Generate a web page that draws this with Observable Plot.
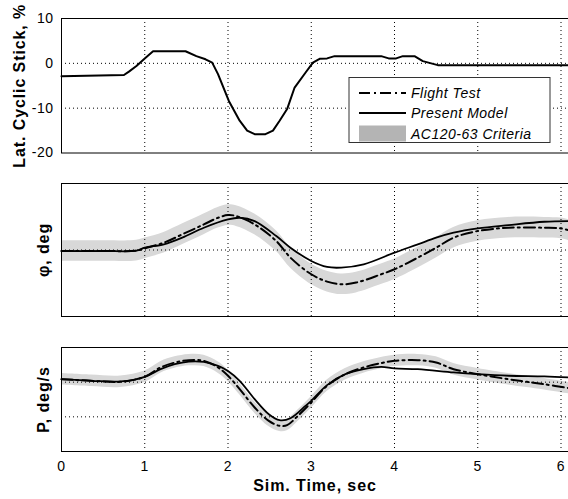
<!DOCTYPE html>
<html><head><meta charset="utf-8">
<script src="https://cdn.jsdelivr.net/npm/d3@7"></script>
<script src="https://cdn.jsdelivr.net/npm/@observablehq/plot@0.6"></script>
<style>
body{margin:0;background:#fff;}
#c{position:relative;width:568px;height:499px;overflow:hidden;background:#fff;}
#c > svg{position:absolute;left:0;overflow:visible;}
#c svg text{letter-spacing:0.5px;}
#c g[font-weight="bold"] text{letter-spacing:0.9px;}
</style></head><body><div id="c"></div>
<script>
// ---- data ----
const xTicks = [0, 1, 2, 3, 4, 5, 6];
const stickT = [0, 0.75, 0.81, 0.90, 1.0, 1.10, 1.49, 1.62, 1.73, 1.81, 1.88, 2.01, 2.14, 2.23, 2.32, 2.45, 2.54, 2.62, 2.71, 2.80, 2.93, 3.02, 3.10, 3.19, 3.28, 3.84, 3.93, 4.02, 4.10, 4.24, 4.34, 4.52, 6.1];
const stickV = [-2.9, -2.6, -1.85, -0.6, 1.1, 2.7, 2.7, 1.6, 0.9, 0.15, -2.4, -8.4, -12.8, -15.0, -15.8, -15.8, -15.0, -12.8, -10.2, -5.4, -2.1, 0.15, 1.0, 1.1, 1.6, 1.6, 1.1, 1.1, 1.6, 1.6, 0.5, -0.4, -0.4];

const phiFtT = [0, 0.5, 0.9, 1.0, 1.23, 1.45, 1.71, 1.88, 2.0, 2.10, 2.32, 2.58, 2.75, 3.0, 3.19, 3.36, 3.54, 3.84, 4.0, 4.28, 4.50, 4.71, 5.0, 5.37, 5.80, 6.0, 6.1];
const phiFtV = [-0.3, -0.3, -0.2, 0.5, 2.2, 4.7, 7.7, 9.7, 10.5, 10.2, 7.7, 2.7, -2.3, -7.3, -9.5, -10.3, -9.8, -7.3, -5.8, -2.3, 0.7, 3.7, 5.7, 6.7, 6.7, 6.5, 5.9];
const phiPmT = [0, 0.5, 0.9, 1.0, 1.23, 1.45, 1.71, 2.0, 2.14, 2.32, 2.58, 2.75, 3.0, 3.19, 3.36, 3.63, 4.0, 4.28, 4.50, 4.71, 5.0, 5.37, 5.80, 6.1];
const phiPmV = [-0.3, -0.3, -0.2, 0.7, 1.7, 3.7, 6.7, 9.2, 9.7, 8.7, 4.2, 0.7, -3.3, -5.1, -5.3, -4.3, -0.8, 1.7, 3.7, 5.2, 6.5, 7.5, 8.5, 8.7];
const phiTol = 3.1;

const pFtT = [0, 0.36, 0.71, 1.0, 1.19, 1.36, 1.53, 1.71, 1.88, 2.0, 2.14, 2.32, 2.49, 2.62, 2.71, 2.84, 3.0, 3.19, 3.41, 3.63, 3.84, 4.0, 4.28, 4.50, 4.71, 5.0, 5.37, 5.59, 5.80, 6.1];
const pFtV = [1.7, 0.8, 0.2, 3.1, 8.5, 11.3, 12.7, 12.3, 8.5, 3.7, -4.0, -14.6, -22.3, -25.2, -24.8, -19.4, -11.7, -2.1, 4.6, 8.5, 11.0, 12.3, 12.7, 11.3, 7.5, 4.6, 1.7, 0.2, -1.2, -3.5];
const pPmT = [0, 0.36, 0.71, 1.0, 1.19, 1.36, 1.53, 1.71, 1.88, 2.0, 2.14, 2.32, 2.49, 2.62, 2.75, 2.93, 3.0, 3.19, 3.41, 3.63, 3.84, 4.0, 4.28, 4.71, 5.0, 5.37, 5.80, 6.1];
const pPmV = [1.7, 0.8, 0.4, 3.1, 7.5, 10.4, 11.9, 11.7, 9.4, 6.5, 0.8, -9.8, -18.5, -21.9, -20.8, -13.7, -10.8, -1.7, 4.6, 7.5, 8.8, 7.9, 7.5, 5.6, 4.6, 3.7, 3.3, 2.7];
const pTol = 3.3;

const legendLabels = ["Flight Test", "Present Model", "AC120-63 Criteria"];

// ---- helpers ----
const zip = (T, V) => T.map((t, i) => ({t, v: V[i]}));
const stick = zip(stickT, stickV);
const phiFt = zip(phiFtT, phiFtV), phiPm = zip(phiPmT, phiPmV);
const pFt = zip(pFtT, pFtV), pPm = zip(pPmT, pPmV);

const W = 568, ML = 61, MR = 0;
const XD = [0, 6.09];
const font = "'Liberation Sans', Arial, Helvetica, sans-serif";
const dashDot = "11,4,2,4";
const bandFill = "#d8d8d8";
const grid = {stroke: "black", strokeOpacity: 1, strokeWidth: 1, strokeDasharray: "1,3"};
const style = {fontFamily: font, fontSize: "14px", color: "black", background: "transparent", overflow: "visible"};
const ylabel = (txt, dx) => Plot.text([txt], {frameAnchor: "left", textAnchor: "middle", rotate: -90, dx, fontWeight: "bold", fontSize: 16, fill: "black"});

const c = document.getElementById("c");

// Top panel
const p1 = Plot.plot({
  width: W, height: 170, marginTop: 18, marginBottom: 17.5, marginLeft: ML, marginRight: MR,
  style,
  x: {domain: XD, axis: null},
  y: {domain: [-20, 10]},
  marks: [
    Plot.gridX(xTicks.slice(1), grid),
    Plot.gridY([-10, 0], grid),
    Plot.line(stick, {x: "t", y: "v", stroke: "black", strokeWidth: 2}),
    Plot.axisY([-20, -10, 0, 10], {tickSize: 0, tickPadding: 8, fontSize: 14, label: null, tickFormat: d => String(d)}),
    Plot.frame({stroke: "black", strokeWidth: 1}),
    ylabel("Lat. Cyclic Stick, %", -42)
  ]
});
p1.style.top = "0px";
c.appendChild(p1);

// Legend (drawn into top panel svg)
{
  const svg = d3.select(p1);
  const g = svg.append("g").attr("font-family", font).attr("font-size", 14).attr("font-style", "italic")
    .attr("text-anchor", "start").style("letter-spacing", "0.9px");
  g.append("rect").attr("x", 349).attr("y", 77.5).attr("width", 201).attr("height", 65)
    .attr("fill", "white").attr("stroke", "#333").attr("stroke-width", 1);
  const rows = [93, 113, 134];
  g.append("line").attr("x1", 359).attr("x2", 406).attr("y1", rows[0]).attr("y2", rows[0])
    .attr("stroke", "black").attr("stroke-width", 2).attr("stroke-dasharray", dashDot);
  g.append("line").attr("x1", 359).attr("x2", 406).attr("y1", rows[1]).attr("y2", rows[1])
    .attr("stroke", "black").attr("stroke-width", 2);
  g.append("rect").attr("x", 359).attr("y", 125.5).attr("width", 47).attr("height", 16).attr("fill", "#b4b4b4");
  legendLabels.forEach((l, i) => g.append("text").attr("x", 411).attr("y", rows[i]).attr("dy", "0.36em").attr("fill", "black").text(l));
}

// Middle panel
const p2 = Plot.plot({
  width: W, height: 160, marginTop: 13, marginBottom: 14, marginLeft: ML, marginRight: MR,
  style,
  x: {domain: XD, axis: null},
  y: {domain: [-20, 20], axis: null},
  marks: [
    Plot.areaY(phiFt, {x: "t", y1: d => d.v - phiTol, y2: d => d.v + phiTol, fill: bandFill, curve: "catmull-rom"}),
    Plot.gridX(xTicks.slice(1), grid),
    Plot.gridY([0], grid),
    Plot.line(phiFt, {x: "t", y: "v", stroke: "black", strokeWidth: 2, strokeDasharray: dashDot, curve: "catmull-rom"}),
    Plot.line(phiPm, {x: "t", y: "v", stroke: "black", strokeWidth: 1.8, curve: "catmull-rom"}),
    Plot.frame({stroke: "black", strokeWidth: 1}),
    ylabel("\u03c6, deg", -18)
  ]
});
p2.style.top = "170px";
c.appendChild(p2);

// Bottom panel
const p3 = Plot.plot({
  width: W, height: 169, marginTop: 17, marginBottom: 48, marginLeft: ML, marginRight: MR,
  style,
  x: {domain: XD},
  y: {domain: [-40, 20], axis: null},
  marks: [
    Plot.areaY(pFt, {x: "t", y1: d => d.v - pTol, y2: d => d.v + pTol, fill: bandFill, curve: "catmull-rom"}),
    Plot.gridX(xTicks.slice(1), grid),
    Plot.gridY([-20, 0], grid),
    Plot.line(pFt, {x: "t", y: "v", stroke: "black", strokeWidth: 2, strokeDasharray: dashDot, curve: "catmull-rom"}),
    Plot.line(pPm, {x: "t", y: "v", stroke: "black", strokeWidth: 1.8, curve: "catmull-rom"}),
    Plot.axisX(xTicks, {tickSize: 0, tickPadding: 10, fontSize: 14, label: null, tickFormat: d => String(d)}),
    Plot.frame({stroke: "black", strokeWidth: 1}),
    ylabel("P, deg/s", -18),
    Plot.text(["Sim. Time, sec"], {frameAnchor: "bottom", dy: 39, fontWeight: "bold", fontSize: 16, fill: "black"})
  ]
});
p3.style.top = "330px";
c.appendChild(p3);
</script>
</body></html>
